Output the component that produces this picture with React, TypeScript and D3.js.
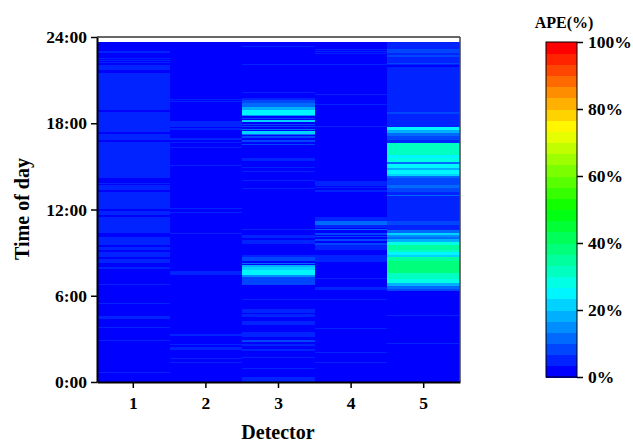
import React, { useEffect, useRef } from "react";
import * as d3 from "d3";

// APE (%) bands per detector: [start hour, end hour, APE]
// hours not covered by a band take BASE_APE
type Seg = [number, number, number];

const detectors = ["1", "2", "3", "4", "5"];
const timeTicks = [0, 6, 12, 18, 24];
const apeTicks = [0, 20, 40, 60, 80, 100];
const DAY_END = 23.67;
const BASE_APE = 1.5;

const det1: Seg[] = [
  [22.9, 23.0, 5], [22.49, 22.54, 5], [22.35, 22.4, 5], [22.2, 22.25, 5], [21.7, 22.07, 5],
  [18.9, 21.5, 5], [17.37, 18.81, 5], [16.81, 17.28, 5], [14.16, 16.72, 5], [13.74, 13.84, 5],
  [13.33, 13.7, 5], [12.02, 13.23, 5], [11.6, 11.93, 5], [10.35, 11.47, 5], [9.51, 10.12, 5],
  [9.19, 9.42, 5], [8.67, 9.05, 5], [8.26, 8.58, 5], [7.84, 7.98, 5], [6.72, 6.81, 5],
  [5.44, 5.51, 5], [4.4, 4.58, 5], [3.77, 3.84, 5], [2.84, 2.91, 5], [0.65, 0.72, 5],
];

const det2: Seg[] = [
  [19.66, 19.72, 5], [19.47, 19.52, 5], [17.74, 18.16, 5], [17.56, 17.65, 5], [16.81, 16.95, 5],
  [16.63, 16.67, 5], [16.3, 16.35, 5], [15.05, 15.09, 5], [12.07, 12.12, 5], [11.79, 11.84, 5],
  [10.35, 10.4, 5], [7.42, 7.74, 6], [3.23, 3.37, 5], [2.63, 2.67, 5], [2.25, 2.44, 5],
  [1.6, 1.7, 5], [1.33, 1.37, 5],
];

const det3: Seg[] = [
  [23.33, 23.37, 5], [22.07, 22.12, 5], [20.07, 20.16, 5], [19.65, 19.74, 5], [19.42, 19.65, 8.5],
  [19.14, 19.42, 12], [18.91, 19.14, 19], [18.58, 18.91, 25], [18.49, 18.58, 15], [18.3, 18.4, 8.5],
  [18.11, 18.21, 22], [17.88, 17.98, 8.5], [17.74, 17.84, 8.5], [17.51, 17.6, 12], [17.28, 17.47, 22],
  [17.19, 17.28, 12], [17.0, 17.09, 8.5], [16.67, 16.81, 8.5], [16.49, 16.58, 8.5], [15.37, 15.56, 5],
  [14.86, 14.95, 5], [14.58, 14.67, 5], [13.98, 14.02, 5], [13.47, 13.51, 5], [10.54, 10.63, 5],
  [10.02, 10.21, 5], [9.6, 9.88, 6], [8.67, 8.81, 5], [8.4, 8.67, 9], [8.21, 8.3, 12],
  [7.98, 8.12, 18], [7.79, 7.98, 22], [7.47, 7.79, 25], [7.28, 7.47, 15], [6.77, 7.28, 7],
  [5.7, 5.79, 5], [4.77, 5.05, 5], [4.49, 4.72, 5], [3.98, 4.26, 6], [3.23, 3.51, 6],
  [3.14, 3.19, 5], [2.81, 2.91, 8.5], [2.53, 2.63, 5], [2.16, 2.3, 6], [1.7, 1.74, 5],
  [0.91, 0.95, 5], [0.02, 0.35, 5],
];

const det4: Seg[] = [
  [23.14, 23.19, 5], [23.0, 23.05, 5], [22.81, 22.86, 5], [22.07, 22.12, 5], [19.98, 20.02, 5],
  [19.28, 19.33, 5], [17.74, 17.79, 5], [13.65, 13.98, 6], [13.47, 13.56, 5], [13.23, 13.33, 5],
  [11.19, 11.51, 6], [10.91, 11.19, 10], [10.72, 10.91, 5], [10.58, 10.67, 12], [10.26, 10.35, 8.5],
  [10.07, 10.16, 8.5], [9.79, 9.93, 8.5], [9.51, 9.7, 8.5], [9.19, 9.51, 6], [8.35, 8.81, 5],
  [7.14, 7.23, 5], [6.4, 6.58, 5], [5.74, 5.79, 5], [3.7, 3.74, 5], [2.07, 2.12, 5],
  [1.37, 1.42, 5],
];

const det5: Seg[] = [
  [6.3, 23.67, 5], [23.05, 23.14, 8.5], [22.86, 23.0, 8.5], [22.63, 22.77, 8.5], [22.12, 22.21, 8.5],
  [21.93, 22.02, 1.5], [18.67, 18.77, 8.5], [17.56, 17.74, 25], [17.33, 17.56, 19], [17.09, 17.33, 13],
  [16.81, 17.09, 8.5], [15.79, 16.63, 30], [15.6, 15.79, 25], [15.28, 15.6, 28], [15.14, 15.28, 12],
  [14.91, 15.14, 25], [14.77, 14.91, 18], [14.49, 14.77, 25], [14.3, 14.49, 20], [14.16, 14.3, 12],
  [13.7, 14.16, 7], [13.51, 13.7, 12], [13.23, 13.51, 8.5], [12.91, 13.0, 12], [10.91, 11.23, 8.5],
  [10.35, 10.54, 10], [10.21, 10.35, 22], [10.12, 10.21, 15], [9.93, 10.12, 12], [9.74, 9.93, 18],
  [9.51, 9.74, 28], [9.19, 9.51, 36], [9.05, 9.19, 32], [8.86, 9.05, 25], [8.72, 8.86, 21],
  [8.44, 8.72, 36], [7.56, 8.44, 38], [7.14, 7.56, 33], [6.86, 7.14, 28], [6.67, 6.86, 19],
  [6.49, 6.67, 13], [6.3, 6.49, 8.5], [4.58, 4.63, 5], [2.67, 2.72, 5],
];

const bands: Seg[][] = [det1, det2, det3, det4, det5];

const FONT = "Liberation Serif, Times New Roman, serif";

const App = () => {
  const ref = useRef<SVGSVGElement | null>(null);

  useEffect(() => {
    const svg = d3.select(ref.current);
    svg.selectAll("*").remove();

    const x = d3.scaleBand().domain(detectors).range([97, 460]).padding(0);
    const y = d3.scaleLinear().domain([0, 24]).range([382, 37]);

    // 30 discrete levels, blue -> cyan -> green -> yellow -> red
    const interp = d3.piecewise(d3.interpolateRgb, ["#0000ff", "#00ffff", "#00ff00", "#ffff00", "#ff0000"]);
    const levels = d3.range(30).map((i) => interp(i / 29));
    const color = d3.scaleQuantize<string>().domain([0, 100]).range(levels);

    const g = svg.append("g");

    detectors.forEach((d, i) => {
      const col = g.append("g").attr("shape-rendering", "crispEdges");
      col.append("rect")
        .attr("x", x(d)!)
        .attr("width", x.bandwidth())
        .attr("y", y(DAY_END))
        .attr("height", y(0) - y(DAY_END))
        .attr("fill", color(BASE_APE));
      col.selectAll("rect.seg")
        .data(bands[i])
        .enter()
        .append("rect")
        .attr("class", "seg")
        .attr("x", x(d)!)
        .attr("width", x.bandwidth())
        .attr("y", (s) => y(s[1]))
        .attr("height", (s) => Math.max(1, y(s[0]) - y(s[1])))
        .attr("fill", (s) => color(s[2]));
    });

    // frame top and right
    g.append("line").attr("x1", 97).attr("x2", 460).attr("y1", 37).attr("y2", 37)
      .attr("stroke", "#666").attr("stroke-width", 2);
    g.append("line").attr("x1", 460).attr("x2", 460).attr("y1", 37).attr("y2", 382)
      .attr("stroke", "#444").attr("stroke-width", 1.5);

    const yAxis = g.append("g")
      .attr("transform", "translate(97,0)")
      .call(d3.axisLeft(y).tickValues(timeTicks).tickFormat((h) => `${h}:00`).tickSize(6).tickSizeOuter(0).tickPadding(4));
    const xAxis = g.append("g")
      .attr("transform", "translate(0,382)")
      .call(d3.axisBottom(x).tickSize(6).tickSizeOuter(0).tickPadding(9));

    [yAxis, xAxis].forEach((a) => {
      a.select(".domain").attr("stroke", "#000").attr("stroke-width", 2);
      a.selectAll(".tick line").attr("stroke", "#000").attr("stroke-width", 1.5);
      a.selectAll("text").style("font-family", FONT).style("font-size", "17.5px").style("font-weight", "bold").attr("fill", "#000");
    });

    svg.append("text")
      .attr("transform", "translate(29,209) rotate(-90)")
      .attr("text-anchor", "middle")
      .style("font-family", FONT).style("font-size", "20px").style("font-weight", "bold")
      .text("Time of day");

    svg.append("text")
      .attr("x", 278).attr("y", 439)
      .attr("text-anchor", "middle")
      .style("font-family", FONT).style("font-size", "20px").style("font-weight", "bold")
      .text("Detector");

    // colour bar
    const cb = svg.append("g");
    const cy = d3.scaleLinear().domain([0, 100]).range([377, 42]);
    const step = 100 / levels.length;
    cb.append("g").attr("shape-rendering", "crispEdges")
      .selectAll("rect")
      .data(levels)
      .enter()
      .append("rect")
      .attr("x", 546)
      .attr("width", 31)
      .attr("y", (c, i) => cy((i + 1) * step))
      .attr("height", (c, i) => cy(i * step) - cy((i + 1) * step) + 0.5)
      .attr("fill", (c) => c);
    cb.append("rect")
      .attr("x", 546).attr("y", 42).attr("width", 31).attr("height", 335)
      .attr("fill", "none").attr("stroke", "#000").attr("stroke-width", 1);
    const cAxis = cb.append("g")
      .attr("transform", "translate(577,0)")
      .call(d3.axisRight(cy).tickValues(apeTicks).tickFormat((v) => `${v}%`).tickSize(6).tickSizeOuter(0).tickPadding(5));
    cAxis.select(".domain").remove();
    cAxis.selectAll(".tick line").attr("stroke", "#000").attr("stroke-width", 1.5);
    cAxis.selectAll("text").style("font-family", FONT).style("font-size", "17.5px").style("font-weight", "bold").attr("fill", "#000");

    cb.append("text")
      .attr("x", 564).attr("y", 28)
      .attr("text-anchor", "middle")
      .style("font-family", FONT).style("font-size", "16px").style("font-weight", "bold")
      .text("APE(%)");
  }, []);

  return (
    <div style={{ position: "absolute", left: 0, top: 0 }}>
      <svg ref={ref} width={633} height={442} style={{ display: "block", background: "#fff" }} />
    </div>
  );
};

export default App;
